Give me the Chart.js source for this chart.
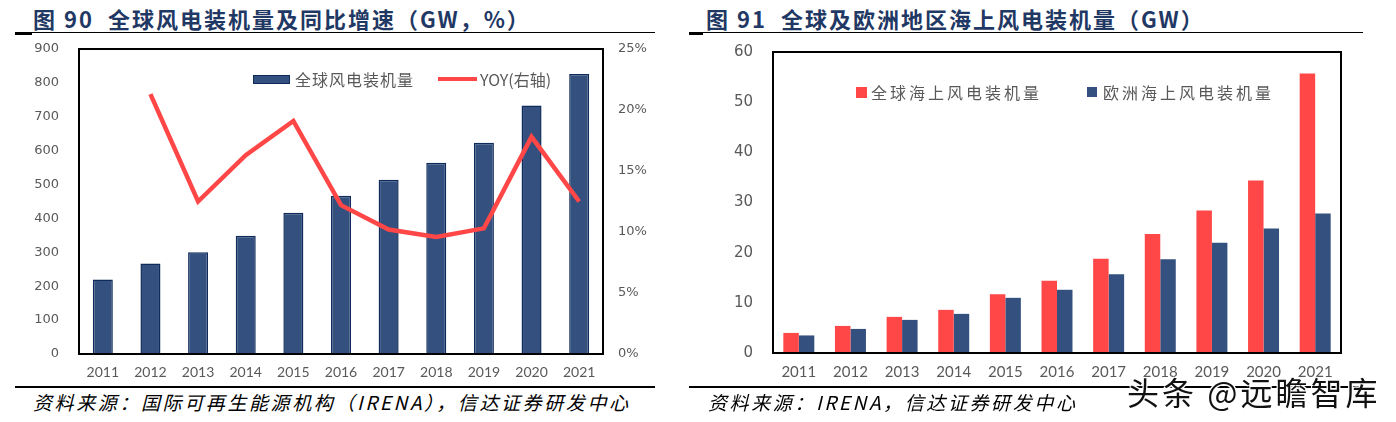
<!DOCTYPE html>
<html lang="zh-CN">
<head>
<meta charset="utf-8">
<title>风电装机量</title>
<script src="https://cdn.jsdelivr.net/npm/chart.js@4.4.1/dist/chart.umd.min.js"></script>
<style>
    html, body { margin: 0; padding: 0; background: #fff; }
    body { width: 1396px; height: 422px; position: relative; overflow: hidden; font-family: "Noto Sans CJK SC", "Noto Sans", sans-serif; }
    .titulo { position: absolute; top: 4px; font-size: 22px; font-weight: bold; color: #1f3864; letter-spacing: 2px; white-space: nowrap; line-height: 28px; }
    .linha { position: absolute; background: #000; }
    .fonte { position: absolute; top: 390px; font-size: 19px; font-style: italic; letter-spacing: 2.6px; white-space: nowrap; line-height: 24px; color: #000; }
    canvas { position: absolute; top: 40px; }
    .legenda { position: absolute; height: 24px; display: flex; align-items: center; font-size: 16px; color: #595959; white-space: nowrap; }
    .legenda span.marca { display: inline-block; box-sizing: border-box; }
    .marca-aguia { position: absolute; left: 1127px; top: 372px; font-size: 32px; line-height: 38px; letter-spacing: 3px; color: #111; white-space: nowrap;
        text-shadow: 0 0 2px #fff, 1px 1px 0 #fff, -1px -1px 0 #fff, 1px -1px 0 #fff, -1px 1px 0 #fff; }
</style>
</head>
<body>

<div class="titulo" style="left:33px">图 90&nbsp;&nbsp;全球风电装机量及同比增速（GW，%）</div>
<div class="linha" style="left:15px; top:32px; width:640px; height:1.4px"></div>
<div class="linha" style="left:15px; top:32px; width:17px; height:3px"></div>

<div class="titulo" style="left:706px">图 91&nbsp;&nbsp;全球及欧洲地区海上风电装机量（GW）</div>
<div class="linha" style="left:689px; top:32px; width:674px; height:1.4px"></div>
<div class="linha" style="left:689px; top:32px; width:14px; height:3px"></div>

<canvas id="graficoGlobal" width="690" height="345" style="left:0"></canvas>
<canvas id="graficoOffshore" width="706" height="345" style="left:690px"></canvas>

<div id="legendaGlobal"></div>
<div id="legendaOffshore"></div>

<div class="linha" style="left:15px; top:386px; width:640px; height:2px"></div>
<div class="linha" style="left:689px; top:386px; width:674px; height:2px"></div>
<div class="fonte" style="left:33px">资料来源：国际可再生能源机构（IRENA），信达证券研发中心</div>
<div class="fonte" style="left:708px">资料来源：IRENA，信达证券研发中心</div>

<div class="marca-aguia">头条 @远瞻智库</div>

<script>
// dados
const anos = ['2011', '2012', '2013', '2014', '2015', '2016', '2017', '2018', '2019', '2020', '2021'];
const capacidadeGlobal = [220, 267, 300, 349, 417, 467, 514, 564, 623, 733, 826];
const crescimentoYoy = [null, 21.3, 12.5, 16.3, 19.1, 12.2, 10.2, 9.6, 10.3, 17.8, 12.5];
const offshoreGlobal = [4.0, 5.4, 7.2, 8.6, 11.7, 14.4, 18.8, 23.7, 28.4, 34.4, 55.7];
const offshoreEuropa = [3.5, 4.8, 6.6, 7.8, 11.0, 12.6, 15.7, 18.7, 22.0, 24.8, 27.8];

const nomesGlobal = ['全球风电装机量', 'YOY(右轴)'];
const nomesOffshore = ['全球海上风电装机量', '欧洲海上风电装机量'];

const eixoCapacidade = [0, 900, 100];   // min, max, passo
const eixoYoy = [0, 25, 5];
const eixoOffshore = [0, 60, 10];

const azul = '#33507f';
const azulBorda = '#0f2b5b';
const vermelho = '#ff4747';
const cinza = '#595959';

// moldura preta em volta da área do gráfico
const moldura = {
    id: 'moldura',
    afterDatasetsDraw(chart) {
        const { ctx, chartArea: a } = chart;
        ctx.save();
        ctx.strokeStyle = '#000';
        ctx.lineWidth = 2;
        ctx.strokeRect(a.left, a.top, a.right - a.left, a.bottom - a.top);
        ctx.restore();
    }
};

const largura = (w) => (scale) => { scale.width = w; };
const altura = (h) => (scale) => { scale.height = h; };

// marcas de tick invisíveis, só para afastar os rótulos do eixo
// (o padding dos ticks também empurraria o topo da área do gráfico)
const gradeInvisivel = (comprimento) => ({
    display: true, drawOnChartArea: false, drawTicks: true, tickLength: comprimento, color: 'rgba(0,0,0,0)'
});

new Chart(document.getElementById('graficoGlobal'), {
    type: 'bar',
    data: {
        labels: anos,
        datasets: [
            {
                type: 'line',
                label: nomesGlobal[1],
                data: crescimentoYoy,
                yAxisID: 'y1',
                borderColor: vermelho,
                borderWidth: 4.5,
                pointRadius: 0,
                tension: 0,
                spanGaps: false,
                order: 0
            },
            {
                label: nomesGlobal[0],
                data: capacidadeGlobal,
                yAxisID: 'y',
                backgroundColor: azul,
                borderColor: azulBorda,
                borderWidth: 1.5,
                barPercentage: 0.42,
                categoryPercentage: 1,
                order: 1
            }
        ]
    },
    options: {
        responsive: false,
        animation: false,
        layout: { padding: { top: 9, left: 0, right: 0, bottom: 0 } },
        plugins: { legend: { display: false }, tooltip: { enabled: false } },
        scales: {
            x: {
                grid: { display: false, drawTicks: false },
                border: { display: false },
                ticks: { color: cinza, font: { family: 'Lato', size: 14 }, padding: 10, maxRotation: 0 },
                afterFit: altura(31)
            },
            y: {
                position: 'left',
                min: eixoCapacidade[0], max: eixoCapacidade[1],
                grid: gradeInvisivel(19),
                border: { display: false },
                ticks: { stepSize: eixoCapacidade[2], color: cinza, font: { family: 'DejaVu Sans', size: 13 }, padding: 1 },
                afterFit: largura(79)
            },
            y1: {
                position: 'right',
                min: eixoYoy[0], max: eixoYoy[1],
                grid: gradeInvisivel(14),
                border: { display: false },
                ticks: { stepSize: eixoYoy[2], color: cinza, font: { family: 'DejaVu Sans', size: 13 }, padding: 1,
                    callback: (v) => v + '%' },
                afterFit: largura(87)
            }
        }
    },
    plugins: [moldura]
});

new Chart(document.getElementById('graficoOffshore'), {
    type: 'bar',
    data: {
        labels: anos,
        datasets: [
            {
                label: nomesOffshore[0],
                data: offshoreGlobal,
                backgroundColor: vermelho,
                borderWidth: 0,
                barPercentage: 1,
                categoryPercentage: 0.6
            },
            {
                label: nomesOffshore[1],
                data: offshoreEuropa,
                backgroundColor: azul,
                borderWidth: 0,
                barPercentage: 1,
                categoryPercentage: 0.6
            }
        ]
    },
    options: {
        responsive: false,
        animation: false,
        layout: { padding: { top: 12, left: 0, right: 55, bottom: 0 } },
        plugins: { legend: { display: false }, tooltip: { enabled: false } },
        scales: {
            x: {
                grid: { display: false, drawTicks: false },
                border: { display: false },
                ticks: { color: cinza, font: { family: 'Lato', size: 15 }, padding: 10, maxRotation: 0 },
                afterFit: altura(32)
            },
            y: {
                min: eixoOffshore[0], max: eixoOffshore[1],
                grid: gradeInvisivel(19),
                border: { display: false },
                ticks: { stepSize: eixoOffshore[2], color: cinza, font: { family: 'DejaVu Sans', size: 15 }, padding: 1 },
                afterFit: largura(83)
            }
        }
    },
    plugins: [moldura]
});

// legendas em HTML, posicionadas dentro da área do gráfico
function itemLegenda(pai, x, yCentro, marcaCss, texto, espaco) {
    const div = document.createElement('div');
    div.className = 'legenda';
    div.style.left = x + 'px';
    div.style.top = (yCentro - 12) + 'px';
    div.style.letterSpacing = espaco + 'px';
    div.innerHTML = `<span class="marca" style="${marcaCss}"></span><span>${texto}</span>`;
    pai.appendChild(div);
}

const legGlobal = document.getElementById('legendaGlobal');
itemLegenda(legGlobal, 253, 79, `width:37px;height:9px;background:${azul};border:1.5px solid ${azulBorda};margin-right:5px`, nomesGlobal[0], 1);
itemLegenda(legGlobal, 438, 79, `width:39px;height:4px;background:${vermelho};margin-right:3px`, nomesGlobal[1], 0);

const legOffshore = document.getElementById('legendaOffshore');
itemLegenda(legOffshore, 856, 92, `width:11px;height:11px;background:${vermelho};margin-right:4px`, nomesOffshore[0], 3);
itemLegenda(legOffshore, 1087, 92, `width:10px;height:10px;background:${azul};margin-right:6px`, nomesOffshore[1], 3);
</script>
</body>
</html>
